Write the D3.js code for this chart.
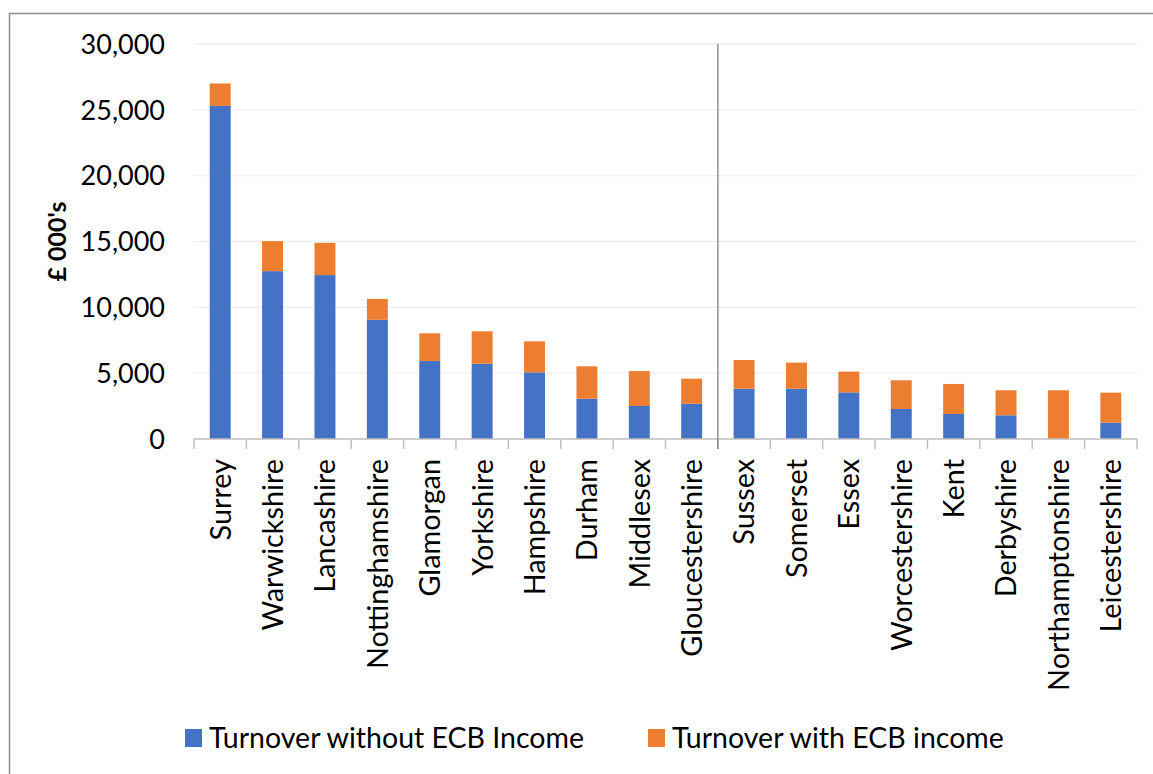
<!DOCTYPE html>
<html>
<head>
<meta charset="utf-8">
<script src="https://cdn.jsdelivr.net/npm/d3@7"></script>
<style>
  body { margin: 0; background: #fff; }
  text { font-family: Lato, "Open Sans", sans-serif; fill: #000; }
  .grid line { stroke: #efefef; stroke-width: 1.3; }
  .y-tick { font-size: 27px; }
  .x-label { font-size: 28.8px; }
  .legend-label { font-size: 28.5px; }
  .y-title { font-size: 25px; font-weight: bold; }
</style>
</head>
<body>
<div id="wrapper"></div>
<script>
// Data (£ 000's)
const counties = [
  'Surrey', 'Warwickshire', 'Lancashire', 'Nottinghamshire', 'Glamorgan',
  'Yorkshire', 'Hampshire', 'Durham', 'Middlesex', 'Gloucestershire',
  'Sussex', 'Somerset', 'Essex', 'Worcestershire', 'Kent', 'Derbyshire',
  'Northamptonshire', 'Leicestershire'
]
const withoutEcb = [
  25300, 12750, 12450, 9050, 5920, 5720, 5060, 3060, 2510, 2680,
  3820, 3820, 3540, 2280, 1900, 1800, 0, 1240
]
// orange part stacked on top: the ECB income
const ecbIncome = [
  1700, 2280, 2450, 1590, 2110, 2460, 2360, 2460, 2650, 1900,
  2180, 1980, 1580, 2180, 2280, 1900, 3700, 2280
]
const yTicks = [0, 5000, 10000, 15000, 20000, 25000, 30000]
const seriesNames = ['Turnover without ECB Income', 'Turnover with ECB income']
const seriesColors = ['#4472c4', '#ed7d31']
const splitAfter = 'Gloucestershire' // vertical divider sits after this county

function drawChart() {
  const dimensions = {
    width: 1153,
    height: 774,
    margin: { top: 44, right: 16, bottom: 335, left: 194 },
  }
  dimensions.boundedWidth = dimensions.width - dimensions.margin.left - dimensions.margin.right
  dimensions.boundedHeight = dimensions.height - dimensions.margin.top - dimensions.margin.bottom

  const rows = counties.map((c, i) => ({ county: c, base: withoutEcb[i], ecb: ecbIncome[i] }))
  const stacked = d3.stack().keys(['base', 'ecb'])(rows)

  const wrapper = d3.select('#wrapper')
    .append('svg')
    .attr('width', dimensions.width)
    .attr('height', dimensions.height)

  // chart frame (Excel style border, cut off at right and bottom)
  wrapper.append('path')
    .attr('d', `M9.5,${dimensions.height}V13.5H${dimensions.width}`)
    .attr('fill', 'none')
    .attr('stroke', '#8c8c8c')
    .attr('stroke-width', 1.5)

  const bounds = wrapper.append('g')
    .attr('transform', `translate(${dimensions.margin.left},${dimensions.margin.top})`)

  // Scales
  const xScale = d3.scaleBand()
    .domain(counties)
    .range([0, dimensions.boundedWidth])
    .paddingInner(0.6)
    .paddingOuter(0.3)

  const yScale = d3.scaleLinear()
    .domain([0, 30000])
    .range([dimensions.boundedHeight, 0])

  // Gridlines
  bounds.append('g')
    .attr('class', 'grid')
    .selectAll('line')
    .data(yTicks.filter(d => d > 0))
    .join('line')
    .attr('x1', 0)
    .attr('x2', dimensions.boundedWidth)
    .attr('y1', d => yScale(d))
    .attr('y2', d => yScale(d))

  // Y tick labels
  bounds.append('g')
    .selectAll('text')
    .data(yTicks)
    .join('text')
    .attr('class', 'y-tick')
    .attr('x', -29)
    .attr('y', d => yScale(d))
    .attr('dy', '0.36em')
    .attr('text-anchor', 'end')
    .text(d3.format(','))

  wrapper.append('text')
    .attr('class', 'y-title')
    .attr('transform', `translate(66,${dimensions.margin.top + yScale(15000)}) rotate(-90)`)
    .attr('text-anchor', 'middle')
    .text("£ 000's")

  // Bars
  bounds.append('g')
    .selectAll('g')
    .data(stacked)
    .join('g')
    .attr('fill', (d, i) => seriesColors[i])
    .selectAll('rect')
    .data(d => d)
    .join('rect')
    .attr('x', d => xScale(d.data.county))
    .attr('width', xScale.bandwidth())
    .attr('y', d => yScale(d[1]))
    .attr('height', d => yScale(d[0]) - yScale(d[1]))

  // X axis line and ticks at category boundaries
  const step = xScale.step()
  const edge = xScale(counties[0]) - step * xScale.paddingInner() / 2
  const boundaries = d3.range(counties.length + 1).map(i => edge + i * step)
  const xAxis = bounds.append('g')
    .attr('transform', `translate(0,${dimensions.boundedHeight})`)
  xAxis.append('line')
    .attr('x1', 0).attr('x2', dimensions.boundedWidth)
    .attr('stroke', '#bfbfbf').attr('stroke-width', 1.5)
  xAxis.selectAll('.tick')
    .data(boundaries)
    .join('line')
    .attr('class', 'tick')
    .attr('x1', d => d).attr('x2', d => d)
    .attr('y1', 0).attr('y2', 10)
    .attr('stroke', '#bfbfbf').attr('stroke-width', 1.5)

  // Divider between the two groups of counties
  const splitX = boundaries[counties.indexOf(splitAfter) + 1]
  bounds.append('line')
    .attr('x1', splitX).attr('x2', splitX)
    .attr('y1', 0).attr('y2', dimensions.boundedHeight + 10)
    .attr('stroke', '#808080').attr('stroke-width', 1.3)

  // Category labels, rotated
  xAxis.selectAll('.x-label')
    .data(counties)
    .join('text')
    .attr('class', 'x-label')
    .attr('transform', d => `translate(${xScale(d) + xScale.bandwidth() / 2},20) rotate(-90)`)
    .attr('dy', '0.36em')
    .attr('text-anchor', 'end')
    .text(d => d)

  // Legend
  const legendX = [185, 648]
  const legend = wrapper.append('g')
    .selectAll('g')
    .data(seriesNames)
    .join('g')
    .attr('transform', (d, i) => `translate(${legendX[i]},729)`)
  legend.append('rect')
    .attr('width', 17)
    .attr('height', 18)
    .attr('fill', (d, i) => seriesColors[i])
  legend.append('text')
    .attr('class', 'legend-label')
    .attr('x', 24)
    .attr('y', 19)
    .text(d => d)
}
drawChart()
</script>
</body>
</html>
